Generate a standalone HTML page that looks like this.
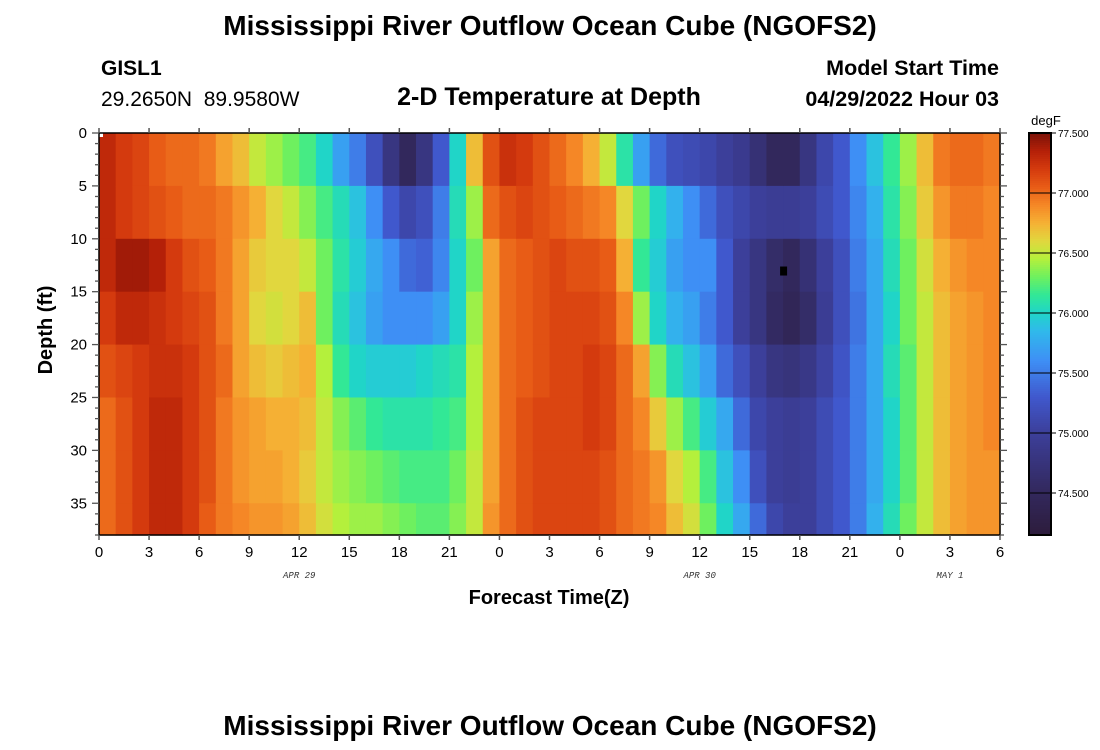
<!DOCTYPE html>
<html><head><meta charset="utf-8"><style>
body{margin:0;background:#fff;}
svg{display:block;font-family:"Liberation Sans",Arial,sans-serif;}
</style></head><body>
<svg id="chart" width="1100" height="750" viewBox="0 0 1100 750">
<text x="550" y="35" text-anchor="middle" font-size="28" font-weight="bold">Mississippi River Outflow Ocean Cube (NGOFS2)</text>
<text x="101" y="75" font-size="21" font-weight="bold">GISL1</text>
<text x="101" y="106" font-size="21">29.2650N&#160;&#160;89.9580W</text>
<text x="549" y="105" text-anchor="middle" font-size="25" font-weight="bold">2-D Temperature at Depth</text>
<text x="999" y="75" text-anchor="end" font-size="21.5" font-weight="bold">Model Start Time</text>
<text x="999" y="106" text-anchor="end" font-size="21.5" font-weight="bold">04/29/2022 Hour 03</text>
<g id="cells"></g>
<g id="axes"></g>
<text transform="translate(52,330) rotate(-90)" text-anchor="middle" font-size="20" font-weight="bold">Depth (ft)</text>
<text x="549" y="604" text-anchor="middle" font-size="20" font-weight="bold">Forecast Time(Z)</text>
<text x="1046" y="125" text-anchor="middle" font-size="13">degF</text>
<g id="cbar"></g>
<text x="550" y="735" text-anchor="middle" font-size="28" font-weight="bold">Mississippi River Outflow Ocean Cube (NGOFS2)</text>
</svg>
<script>
const hours = [];for(let i=0;i<54;i++)hours.push(i);
const depthEdges = [0,5,10,15,20,25,30,35,38];
const xTickLabels = ["0","3","6","9","12","15","18","21","0","3","6","9","12","15","18","21","0","3","6"];
const yTickLabels = [0,5,10,15,20,25,30,35];
const dateLabels = ["APR 29","APR 30","MAY 1"];
const dateHours = [12,36,51];
const cbarTicks = [77.5,77.0,76.5,76.0,75.5,75.0,74.5];
const temps = [
[77.3,77.3,77.3,77.2,77.1,77.0,77.0,77.0],
[77.2,77.2,77.4,77.3,77.15,77.1,77.1,77.1],
[77.15,77.15,77.4,77.3,77.2,77.2,77.2,77.2],
[77.05,77.1,77.35,77.25,77.25,77.3,77.3,77.3],
[77.0,77.05,77.2,77.2,77.25,77.3,77.3,77.3],
[77.0,77.0,77.1,77.15,77.2,77.2,77.2,77.2],
[76.95,77.0,77.05,77.1,77.1,77.1,77.1,77.05],
[76.8,76.95,76.95,76.95,77.0,76.95,76.95,76.95],
[76.7,76.85,76.8,76.8,76.8,76.85,76.85,76.9],
[76.5,76.75,76.65,76.6,76.7,76.8,76.8,76.85],
[76.4,76.6,76.6,76.55,76.65,76.75,76.8,76.85],
[76.3,76.5,76.6,76.6,76.7,76.75,76.75,76.8],
[76.2,76.35,76.5,76.7,76.75,76.7,76.65,76.7],
[76.0,76.2,76.3,76.3,76.45,76.5,76.5,76.55],
[75.7,76.05,76.1,76.05,76.15,76.35,76.4,76.45],
[75.5,75.9,75.95,75.9,76.0,76.25,76.35,76.4],
[75.2,75.6,75.75,75.7,75.95,76.15,76.3,76.4],
[74.8,75.3,75.6,75.6,75.95,76.1,76.25,76.35],
[74.5,75.1,75.4,75.6,75.95,76.1,76.2,76.3],
[74.8,75.2,75.35,75.6,76.0,76.1,76.2,76.25],
[75.3,75.5,75.55,75.7,76.05,76.15,76.2,76.25],
[76.0,76.05,76.0,76.0,76.1,76.2,76.3,76.35],
[76.7,76.4,76.3,76.4,76.45,76.45,76.5,76.5],
[77.1,77.0,76.8,76.8,76.8,76.8,76.8,76.85],
[77.25,77.1,77.0,77.0,77.0,77.0,77.0,77.0],
[77.2,77.15,77.05,77.05,77.05,77.1,77.1,77.1],
[77.1,77.1,77.1,77.1,77.1,77.15,77.15,77.15],
[77.0,77.05,77.15,77.15,77.15,77.15,77.15,77.15],
[76.9,77.0,77.1,77.15,77.15,77.15,77.15,77.15],
[76.75,76.95,77.1,77.15,77.2,77.2,77.15,77.15],
[76.5,76.9,77.05,77.1,77.15,77.15,77.1,77.1],
[76.1,76.6,76.75,76.9,77.0,77.0,77.0,77.0],
[75.7,76.3,76.15,76.4,76.8,76.9,76.95,76.95],
[75.4,76.0,75.95,76.0,76.35,76.65,76.85,76.9],
[75.2,75.8,75.7,75.8,76.05,76.4,76.6,76.7],
[75.15,75.6,75.6,75.7,75.9,76.2,76.45,76.55],
[75.1,75.4,75.6,75.5,75.7,75.95,76.2,76.3],
[75.0,75.2,75.3,75.3,75.4,75.75,75.9,76.0],
[74.9,75.1,75.0,75.0,75.2,75.4,75.6,75.75],
[74.7,75.0,74.8,74.8,75.0,75.1,75.2,75.4],
[74.5,74.95,74.6,74.55,74.8,75.0,75.0,75.1],
[74.5,74.95,74.5,74.45,74.75,74.95,74.95,75.0],
[74.8,75.0,74.7,74.6,74.85,75.0,75.0,75.0],
[75.1,75.15,75.0,74.95,75.05,75.15,75.15,75.15],
[75.3,75.3,75.2,75.2,75.25,75.3,75.3,75.3],
[75.6,75.55,75.5,75.45,75.5,75.5,75.5,75.5],
[75.9,75.8,75.75,75.75,75.75,75.75,75.75,75.8],
[76.15,76.1,76.05,76.0,76.05,76.0,76.0,76.05],
[76.4,76.35,76.3,76.3,76.25,76.25,76.25,76.3],
[76.7,76.65,76.55,76.5,76.5,76.5,76.5,76.5],
[76.95,76.85,76.75,76.7,76.7,76.7,76.7,76.7],
[77.0,76.95,76.85,76.8,76.8,76.8,76.8,76.8],
[77.0,76.95,76.9,76.85,76.85,76.85,76.85,76.85],
[76.95,76.9,76.9,76.9,76.9,76.9,76.85,76.85]
];
const minMarker = [41, 13];

const NS="http://www.w3.org/2000/svg";
const X0=99,X1=1000,Y0=133,Y1=535,HMAX=54,DMAX=38;
const xs=h=>X0+(X1-X0)*h/HMAX;
const ys=d=>Y0+(Y1-Y0)*d/DMAX;
const TMAX=77.5,TMIN=74.15,CB0=133,CB1=535;
const stops=[[74.15,[45,28,60]],[74.5,[50,40,92]],[75.0,[60,63,154]],[75.3,[64,88,205]],[75.6,[62,143,245]],[75.85,[48,185,235]],[76.0,[32,213,200]],[76.15,[50,232,150]],[76.3,[110,240,95]],[76.45,[180,240,60]],[76.6,[225,215,62]],[76.75,[245,176,52]],[76.9,[245,135,38]],[77.05,[232,92,22]],[77.2,[212,58,14]],[77.35,[180,32,8]],[77.5,[122,18,8]]];
function color(t){
  if(t<=stops[0][0])return "rgb("+stops[0][1]+")";
  for(let i=1;i<stops.length;i++){
    if(t<=stops[i][0]){const a=stops[i-1],b=stops[i],f=(t-a[0])/(b[0]-a[0]);
      return "rgb("+a[1].map((v,k)=>Math.round(v+(b[1][k]-v)*f)).join(",")+")";}
  }
  return "rgb("+stops[stops.length-1][1]+")";
}
function mk(tag,attrs,parent){const e=document.createElementNS(NS,tag);for(const k in attrs)e.setAttribute(k,attrs[k]);parent.appendChild(e);return e;}
const cells=document.getElementById("cells");
temps.forEach((col,i)=>{
  col.forEach((t,j)=>{
    const r=mk("rect",{x:xs(hours[i]).toFixed(2),y:ys(depthEdges[j]).toFixed(2),width:(xs(hours[i]+1)-xs(hours[i])+0.6).toFixed(2),height:(ys(depthEdges[j+1])-ys(depthEdges[j])+0.6).toFixed(2),fill:color(t)},cells);
    
    
  });
});
const mm=mk("rect",{x:xs(minMarker[0])-3,y:ys(minMarker[1])-4,width:7,height:9,fill:"#000"},cells);


mk("rect",{x:X0,y:Y0,width:4,height:4,fill:"#fff"},cells);
const ax=document.getElementById("axes");
mk("rect",{x:X0,y:Y0,width:X1-X0,height:Y1-Y0,fill:"none",stroke:"#000","stroke-width":1.5},ax);
xTickLabels.forEach((lab,i)=>{
  const x=xs(i*3);
  mk("line",{x1:x,y1:Y0,x2:x,y2:Y0-5,stroke:"#555","stroke-width":1.5},ax);
  mk("line",{x1:x,y1:Y1,x2:x,y2:Y1+5,stroke:"#555","stroke-width":1.5},ax);
  const t=mk("text",{x:x,y:Y1+22,"text-anchor":"middle","font-size":15},ax);t.textContent=lab;
  
  
});
for(let d=0;d<=DMAX;d++){
  const y=ys(d),major=d%5===0;
  mk("line",{x1:X0,y1:y,x2:X0-(major?7:4),y2:y,stroke:"#555","stroke-width":1.3},ax);
  mk("line",{x1:X1,y1:y,x2:X1+(major?7:4),y2:y,stroke:"#555","stroke-width":1.3},ax);
}
yTickLabels.forEach(d=>{
  const t=mk("text",{x:X0-12,y:ys(d)+5,"text-anchor":"end","font-size":15},ax);t.textContent=d;
  
  
});
dateLabels.forEach((lab,i)=>{
  const t=mk("text",{x:xs(dateHours[i]),y:Y1+43,"text-anchor":"middle","font-size":9,"font-style":"italic","font-family":"Liberation Mono, monospace",fill:"#333"},ax);t.textContent=lab;
  
  
});
const cb=document.getElementById("cbar");
const CX=1029,CW=22;
for(let y=CB0;y<CB1;y+=2){
  const t=TMAX-(TMAX-TMIN)*(y+1-CB0)/(CB1-CB0);
  mk("rect",{x:CX,y:y,width:CW,height:2.5,fill:color(t)},cb);
}
mk("rect",{x:CX,y:CB0,width:CW,height:CB1-CB0,fill:"none",stroke:"#000","stroke-width":2},cb);
cbarTicks.forEach(v=>{
  const y=CB0+(TMAX-v)/(TMAX-TMIN)*(CB1-CB0);
  mk("line",{x1:CX,y1:y,x2:CX+CW+5,y2:y,stroke:"#000","stroke-width":1},cb);
  const t=mk("text",{x:CX+CW+7,y:y+4,"font-size":10},cb);t.textContent=v.toFixed(3);
  
  
});
</script>
</body></html>
